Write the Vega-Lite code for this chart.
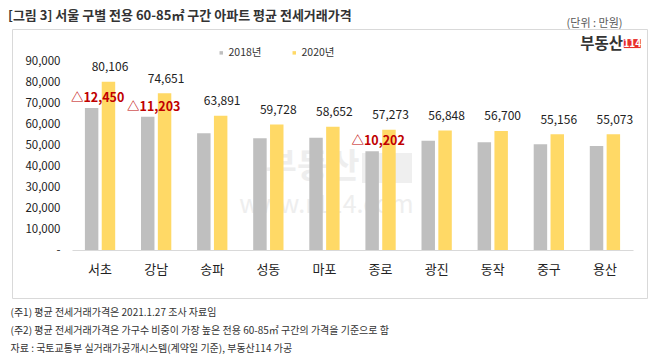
{
  "$schema": "https://vega.github.io/schema/vega-lite/v6.json",
  "width": 635,
  "height": 269,
  "autosize": {"type": "none"},
  "padding": {"left": 12, "top": 29, "right": 11, "bottom": 65},
  "background": "white",
  "config": {
    "font": "Noto Sans CJK KR",
    "view": {"stroke": "#D9D9D9", "strokeWidth": 1}
  },
  "title": {
    "text": "[그림 3] 서울 구별 전용 60-85㎡ 구간 아파트 평균 전세거래가격",
    "anchor": "start",
    "frame": "group",
    "dx": -4,
    "offset": -11.5,
    "baseline": "middle",
    "fontSize": 13,
    "fontWeight": "bold",
    "color": "#333333"
  },
  "datasets": {
    "prices": [
      {"district": "서초", "year": "2018년", "value": 67656, "delta": "△12,450"},
      {"district": "서초", "year": "2020년", "value": 80106},
      {"district": "강남", "year": "2018년", "value": 63448, "delta": "△11,203"},
      {"district": "강남", "year": "2020년", "value": 74651},
      {"district": "송파", "year": "2018년", "value": 55600},
      {"district": "송파", "year": "2020년", "value": 63891},
      {"district": "성동", "year": "2018년", "value": 53200},
      {"district": "성동", "year": "2020년", "value": 59728},
      {"district": "마포", "year": "2018년", "value": 53500},
      {"district": "마포", "year": "2020년", "value": 58652},
      {"district": "종로", "year": "2018년", "value": 47071, "delta": "△10,202"},
      {"district": "종로", "year": "2020년", "value": 57273},
      {"district": "광진", "year": "2018년", "value": 52000},
      {"district": "광진", "year": "2020년", "value": 56848},
      {"district": "동작", "year": "2018년", "value": 51300},
      {"district": "동작", "year": "2020년", "value": 56700},
      {"district": "중구", "year": "2018년", "value": 50300},
      {"district": "중구", "year": "2020년", "value": 55156},
      {"district": "용산", "year": "2018년", "value": 49500},
      {"district": "용산", "year": "2020년", "value": 55073}
    ],
    "logo": [
      {"district": "용산", "pos": 98300, "name": "부동산", "num": "114"}
    ],
    "watermark": [
      {"district": "마포", "pos": 39000, "name": "부동산", "site": "www.r114.com", "sitePos": 21400}
    ]
  },
  "encoding": {
    "x": {
      "field": "district",
      "type": "nominal",
      "sort": ["서초", "강남", "송파", "성동", "마포", "종로", "광진", "동작", "중구", "용산"],
      "scale": {
        "domain": ["서초", "강남", "송파", "성동", "마포", "종로", "광진", "동작", "중구", "용산"],
        "range": [60, 621],
        "paddingInner": 0.46,
        "paddingOuter": 0.23
      },
      "axis": {
        "orient": "bottom",
        "offset": -48,
        "labelAngle": 0,
        "ticks": false,
        "tickSize": 0,
        "labelPadding": 19,
        "labelBaseline": "middle",
        "labelFontSize": 13,
        "labelColor": "#222222",
        "domainColor": "#D9D9D9",
        "domainWidth": 1,
        "grid": false,
        "title": [
          "(주1) 평균 전세거래가격은 2021.1.27 조사 자료임",
          "(주2) 평균 전세거래가격은 가구수 비중이 가장 높은 전용 60-85㎡ 구간의 가격을 기준으로 함",
          "자료 : 국토교통부 실거래가공개시스템(계약일 기준), 부동산114 가공"
        ],
        "titleX": -2,
        "titleY": 57,
        "titleAlign": "left",
        "titleBaseline": "top",
        "titleFontSize": 10,
        "titleFontWeight": "normal",
        "titleColor": "#333333",
        "titleLineHeight": 18.3
      }
    },
    "y": {
      "field": "value",
      "type": "quantitative",
      "scale": {"domain": [0, 90000], "range": [221, 32], "nice": false, "zero": true},
      "axis": {
        "orient": "left",
        "offset": -48,
        "values": [0, 10000, 20000, 30000, 40000, 50000, 60000, 70000, 80000, 90000],
        "labelExpr": "datum.value == 0 ? '-' : format(datum.value, ',')",
        "ticks": false,
        "tickSize": 0,
        "labelPadding": 0,
        "labelFontSize": 11.5,
        "labelColor": "#222222",
        "domain": false,
        "grid": false,
        "title": "(단위 : 만원)",
        "titleAngle": 0,
        "titleX": 562,
        "titleY": -6,
        "titleAlign": "right",
        "titleBaseline": "middle",
        "titleFontSize": 11,
        "titleFontWeight": "normal",
        "titleColor": "#595959"
      }
    }
  },
  "layer": [
    {
      "data": {"name": "watermark"},
      "mark": {"type": "text", "align": "right", "baseline": "middle", "dx": 35, "fontSize": 34, "fontWeight": "bold", "color": "#EEEEEE"},
      "encoding": {
        "y": {"field": "pos", "type": "quantitative"},
        "text": {"field": "name", "type": "nominal"}
      }
    },
    {
      "data": {"name": "watermark"},
      "mark": {"type": "point", "filled": true, "opacity": 1, "color": "#EFEFEF", "strokeWidth": 0, "size": 400, "shape": "M3.75,-1.5L8.75,-1.5L8.75,1.5L3.75,1.5Z"},
      "encoding": {
        "y": {"field": "pos", "type": "quantitative"}
      }
    },
    {
      "data": {"name": "watermark"},
      "mark": {"type": "text", "align": "center", "baseline": "middle", "dx": 2, "fontSize": 25, "color": "#EEEEEE"},
      "encoding": {
        "y": {"field": "sitePos", "type": "quantitative"},
        "text": {"field": "site", "type": "nominal"}
      }
    },
    {
      "data": {"name": "prices"},
      "mark": {"type": "bar"},
      "encoding": {
        "xOffset": {
          "field": "year",
          "type": "nominal",
          "scale": {"domain": ["2018년", "2020년"], "paddingInner": 0.2, "paddingOuter": 0}
        },
        "color": {
          "field": "year",
          "type": "nominal",
          "scale": {"domain": ["2018년", "2020년"], "range": ["#BFBFBF", "#FFD966"]},
          "legend": {
            "orient": "none",
            "legendX": 204,
            "legendY": 18.5,
            "direction": "horizontal",
            "title": null,
            "symbolType": "square",
            "symbolSize": 12,
            "symbolStrokeWidth": 0,
            "labelOffset": 2,
            "columnPadding": 27,
            "labelFontSize": 10.5,
            "labelColor": "#333333"
          }
        }
      }
    },
    {
      "data": {"name": "prices"},
      "transform": [{"filter": "datum.year == '2020년'"}],
      "mark": {"type": "text", "baseline": "middle", "dy": -14.5, "dx": 1.5, "fontSize": 12, "color": "#222222"},
      "encoding": {
        "xOffset": {"field": "year", "type": "nominal"},
        "text": {"field": "value", "type": "quantitative", "format": ","}
      }
    },
    {
      "data": {"name": "prices"},
      "transform": [{"filter": "isValid(datum.delta)"}],
      "mark": {"type": "text", "baseline": "middle", "dy": -10, "dx": 6, "fontSize": 12.5, "fontWeight": "bold", "color": "#C00000"},
      "encoding": {
        "xOffset": {"field": "year", "type": "nominal"},
        "text": {"field": "delta", "type": "nominal"}
      }
    },
    {
      "data": {"name": "logo"},
      "mark": {"type": "text", "align": "right", "baseline": "middle", "dx": 18, "fontSize": 15.5, "fontWeight": "bold", "color": "#333333"},
      "encoding": {
        "y": {"field": "pos", "type": "quantitative"},
        "text": {"field": "name", "type": "nominal"}
      }
    },
    {
      "data": {"name": "logo"},
      "mark": {"type": "point", "filled": true, "opacity": 1, "color": "#E8302A", "strokeWidth": 0, "size": 400, "shape": "M1.88,-0.45L3.58,-0.45L3.58,0.45L1.88,0.45Z"},
      "encoding": {
        "y": {"field": "pos", "type": "quantitative"}
      }
    },
    {
      "data": {"name": "logo"},
      "mark": {"type": "text", "align": "center", "baseline": "middle", "dx": 27.3, "fontSize": 10, "fontWeight": "bold", "color": "white"},
      "encoding": {
        "y": {"field": "pos", "type": "quantitative"},
        "text": {"field": "num", "type": "nominal"}
      }
    }
  ]
}
